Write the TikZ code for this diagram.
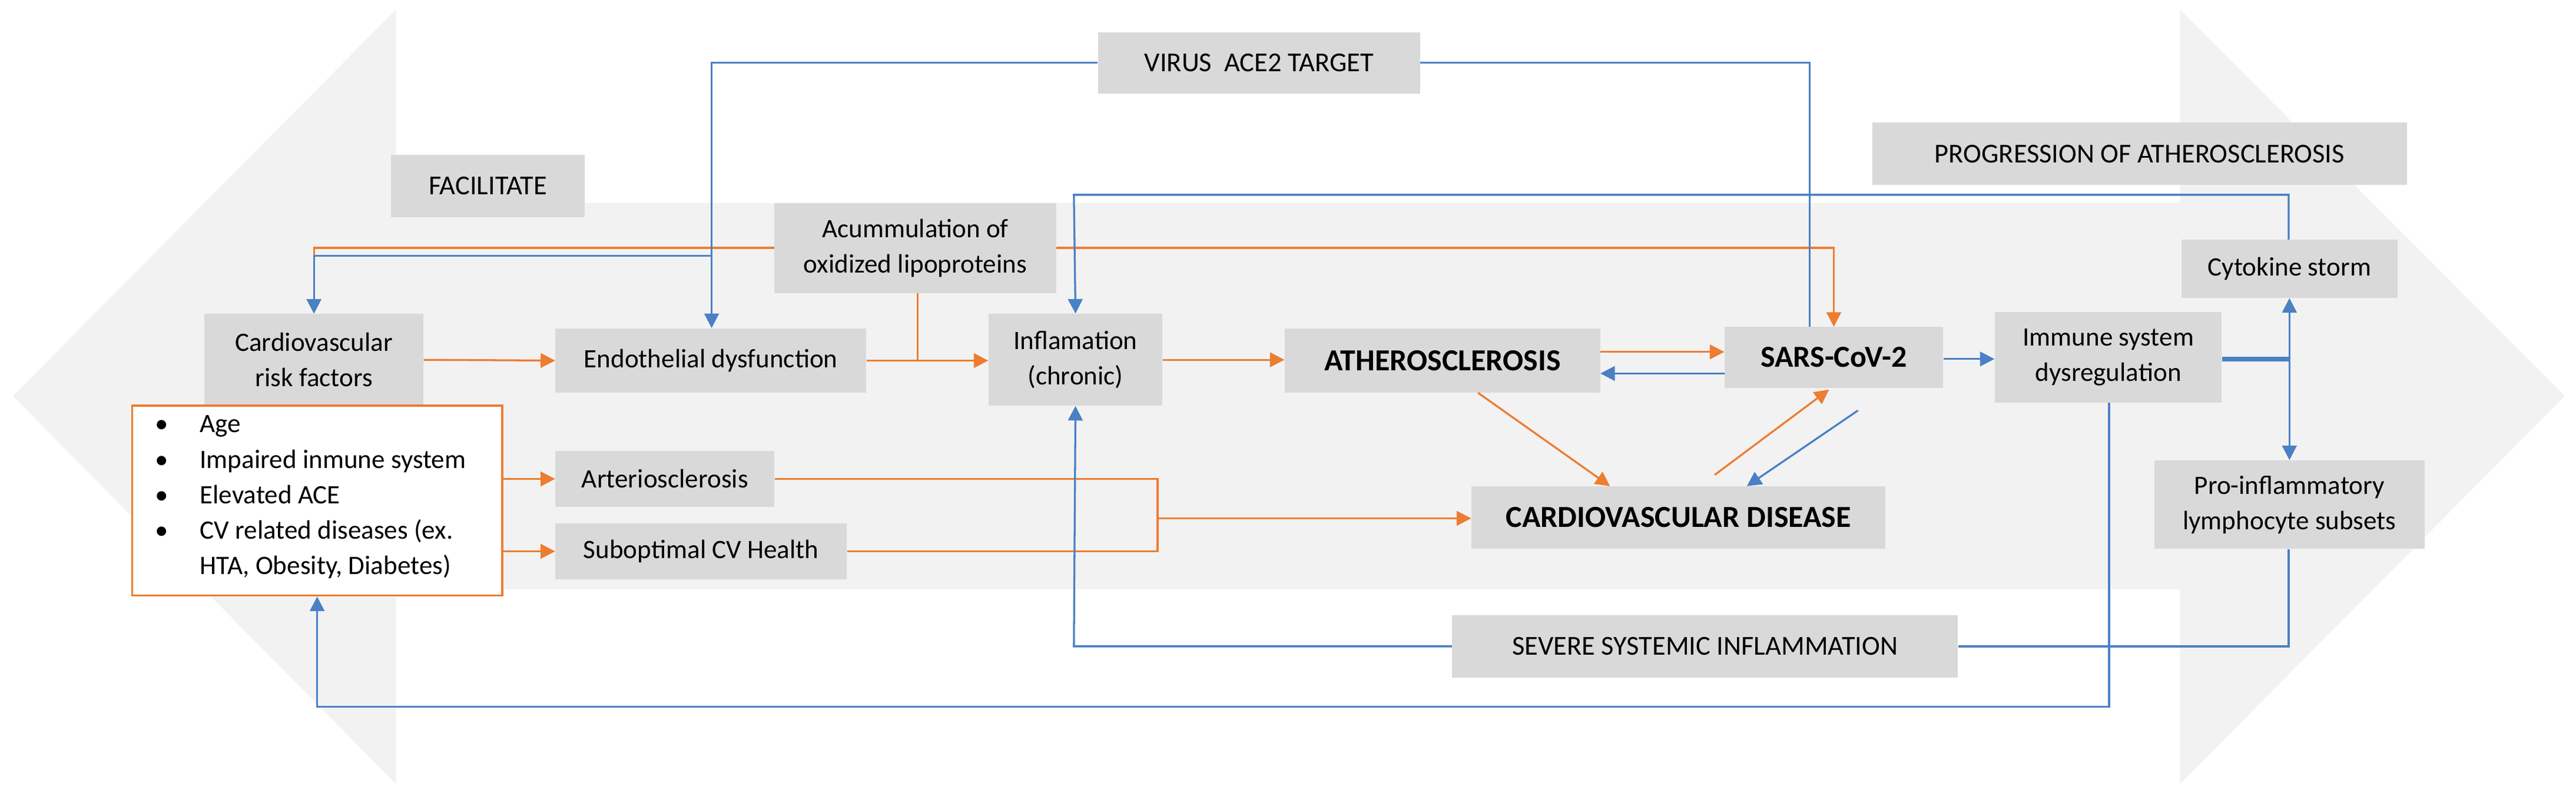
\documentclass[tikz,border=0pt]{standalone}
\usepackage{fontspec}
\setmainfont{Carlito}
\usetikzlibrary{arrows.meta}
\definecolor{bx}{HTML}{D9D9D9}
\definecolor{bg}{HTML}{F2F2F2}
\definecolor{org}{HTML}{ED7D31}
\definecolor{blu}{HTML}{4A80C4}
\tikzset{
 box/.style={fill=bx,inner sep=2pt,align=center,font=\fontsize{16.5}{22}\selectfont},
 bbox/.style={box,font=\fontsize{19}{22}\selectfont\bfseries},
 head/.style={box,font=\fontsize{17}{20}\selectfont},
 oa/.style={draw=org,line width=1.2pt,-{Triangle[length=9pt,width=9pt]},fill=none},
 ba/.style={draw=blu,line width=1.2pt,-{Triangle[length=9pt,width=9pt]},fill=none},
 ol/.style={draw=org,line width=1.2pt},
 bl/.style={draw=blu,line width=1.2pt},
}
\newcommand{\bxat}[6]{\node[#1,minimum width={(#4-#2)*1pt},minimum height={(#5-#3)*1pt}] (#6) at ({(#2+#4)/2},{(#3+#5)/2})}
\begin{document}
\begin{tikzpicture}[x=1pt,y=-1pt]
\useasboundingbox (0,0) rectangle (1600,492.6);
\fill[bg] (8,246) -- (246,6) -- (246,126) -- (1354,126) -- (1354,6) -- (1593,246) -- (1354,487) -- (1354,366) -- (246,366) -- (246,487) -- cycle;
\bxat{head}{682}{20}{882}{58}{virus} {VIRUS\ \ ACE2 TARGET};
\bxat{head}{243}{96}{363}{135}{facil} {FACILITATE};
\bxat{head}{1163}{76}{1495}{115}{prog} {PROGRESSION OF ATHEROSCLEROSIS};
\bxat{box}{481}{126}{656}{182}{acc} {Acummulation of\\oxidized lipoproteins};
\bxat{box}{127}{195}{263}{252}{cvrf} {Cardiovascular\\risk factors};
\bxat{box}{345}{204}{538}{244}{endo} {Endothelial dysfunction};
\bxat{box}{614}{195}{722}{252}{infl} {Inflamation\\(chronic)};
\bxat{bbox}{798}{204}{994}{244}{ath} {ATHEROSCLEROSIS};
\bxat{bbox}{1071}{203}{1207}{241}{sars} {SARS-CoV-2};
\bxat{box}{1239}{194}{1380}{250}{immune} {Immune system\\dysregulation};
\bxat{box}{1355}{149}{1489}{185}{cyto} {Cytokine storm};
\bxat{box}{1338}{286}{1506}{341}{pro} {Pro-inflammatory\\lymphocyte subsets};
\bxat{bbox}{914}{302}{1171}{341}{cvd} {CARDIOVASCULAR DISEASE};
\bxat{head}{902}{382}{1216}{421}{severe} {SEVERE SYSTEMIC INFLAMMATION};
\bxat{box}{345}{280}{481}{315}{arter} {Arteriosclerosis};
\bxat{box}{345}{325}{526}{360}{subopt} {Suboptimal CV Health};
\node[draw=org,fill=white,line width=1.2pt,minimum width=230pt,minimum height=118pt,inner sep=0pt] (list) at (197,311) {};
\node[anchor=north west,align=left,inner sep=0pt,font=\fontsize{16.5}{22}\selectfont] (listtxt) at (96,258) {%
\makebox[28pt][l]{\textbullet}Age\\
\makebox[28pt][l]{\textbullet}Impaired inmune system\\
\makebox[28pt][l]{\textbullet}Elevated ACE\\
\makebox[28pt][l]{\textbullet}CV related diseases (ex.\\
\makebox[28pt][l]{}HTA, Obesity, Diabetes)};
\coordinate (vl) at (442,39);
\coordinate (vr) at (1124,39);
\coordinate (bj) at (442,159);
\coordinate (oj) at (570,224);
\coordinate (tl) at (667,121);
\coordinate (tr) at (1421.5,121);
\coordinate (sp) at (1422,223);
\coordinate (m1) at (719,297.5);
\coordinate (m2) at (719,342.5);
\coordinate (mm) at (719,322);
\coordinate (pd) at (1421.5,401.5);
\coordinate (sl) at (667,401.5);
\coordinate (id) at (1310,439);
\coordinate (ld) at (197,439);
% orange
\draw[oa] (cvrf.east) -- (endo.west);
\draw[oa] (endo.east) -- (infl.west|-endo.east);
\draw[ol] (acc.south-|oj) -- (oj);
\draw[oa] (acc.west) -- (acc.west-|cvrf) -- (cvrf.north);
\draw[oa] (acc.east) -- (1139,154) -- (1139,203);
\draw[oa] (infl.east) -- (ath.west|-infl.east);
\draw[oa] (994,218.6) -- (1071,218.6);
\draw[ol] (arter.east) -- (m1) -- (m2) -- (subopt.east);
\draw[oa] (mm) -- (cvd.west|-mm);
\draw[oa] (list.east|-arter) -- (arter.west);
\draw[oa] (list.east|-subopt) -- (subopt.west);
\draw[oa] (918,244) -- (1000,302);
\draw[oa] (1065,295) -- (1136,242);
% blue
\draw[ba] (virus.west) -- (vl) -- (endo.north-|vl);
\draw[ba] (bj) -- (bj-|cvrf) -- (cvrf.north);
\draw[bl] (virus.east) -- (vr) -- (sars.north-|vr);
\draw[ba] (cyto.north-|tr) -- (tr) -- (tl) -- (infl.north);
\draw[ba] (1071,232) -- (994,232);
\draw[ba] (sars.east|-sp) -- (immune.west|-sp);
\draw[blu,line width=3pt] (immune.east|-sp) -- (sp);
\draw[ba] (sp) -- (cyto.south-|sp);
\draw[ba] (sp) -- (pro.north-|sp);
\draw[bl] (pro.south-|pd) -- (pd) -- (severe.east);
\draw[ba] (severe.west) -- (sl) -- (infl.south);
\draw[ba] (immune.south-|id) -- (id) -- (ld) -- (list.south);
\draw[ba] (1154,255) -- (1085,302);
\end{tikzpicture}
\end{document}
